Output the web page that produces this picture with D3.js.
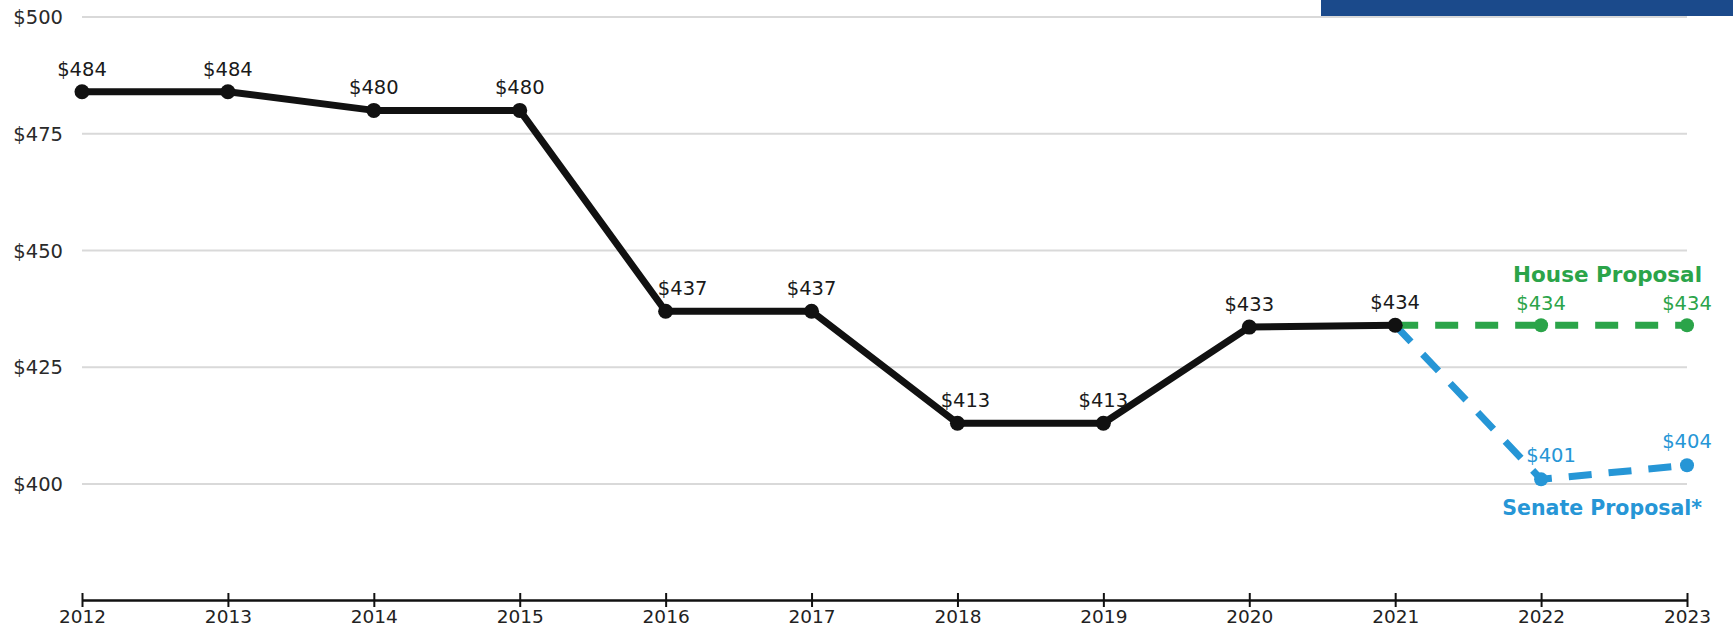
<!DOCTYPE html>
<html>
<head>
<meta charset="utf-8">
<script src="https://cdn.jsdelivr.net/npm/d3@7"></script>
<style>
  html, body { margin: 0; padding: 0; background: #fff; }
  svg { display: block; font-family: "DejaVu Sans", sans-serif; }
</style>
</head>
<body>
<svg id="chart" width="1733" height="633"></svg>
<script>
// ---- data ----
const years = [2012, 2013, 2014, 2015, 2016, 2017, 2018, 2019, 2020, 2021, 2022, 2023];
const actualYears = [2012, 2013, 2014, 2015, 2016, 2017, 2018, 2019, 2020, 2021];
const actualValues = [484, 484, 480, 480, 437, 437, 413, 413, 433.6, 434];
const actualLabels = ["$484", "$484", "$480", "$480", "$437", "$437", "$413", "$413", "$433", "$434"];
const houseYears = [2021, 2022, 2023];
const houseValues = [434, 434, 434];
const houseLabels = ["$434", "$434"];
const senateYears = [2021, 2022, 2023];
const senateValues = [434, 401, 404];
const senateLabels = ["$401", "$404"];
const yTicks = [400, 425, 450, 475, 500];
const yTickLabels = ["$400", "$425", "$450", "$475", "$500"];
const seriesNames = ["House Proposal", "Senate Proposal*"];

// ---- setup ----
const svg = d3.select("#chart");
const colBlack = "#111111", colGreen = "#2ba449", colBlue = "#2696d6", colGrid = "#d9d9d9";

const x = d3.scaleLinear().domain([2012, 2023]).range([82, 1687]);
const y = d3.scaleLinear().domain([400, 500]).range([484, 17]);

// gridlines
svg.append("g").selectAll("line").data(yTicks).join("line")
  .attr("x1", x(2012)).attr("x2", x(2023))
  .attr("y1", d => y(d)).attr("y2", d => y(d))
  .attr("stroke", colGrid).attr("stroke-width", 2);

// y labels
svg.append("g").selectAll("text").data(yTicks).join("text")
  .attr("x", 63).attr("y", d => y(d))
  .attr("dy", "0.36em")
  .attr("text-anchor", "end")
  .attr("font-size", 19.5).attr("fill", "#2a2a2a")
  .text((d, i) => yTickLabels[i]);

// header band (top right)
svg.append("rect").attr("x", 1321).attr("y", 0).attr("width", 1733 - 1321).attr("height", 16)
  .attr("fill", "#1b4a8b");

// x axis
const xAxis = d3.axisBottom(x).tickValues(years).tickFormat(d3.format("d")).tickSize(0).tickPadding(10);
const gx = svg.append("g").attr("transform", "translate(0,600)").call(xAxis);
gx.attr("font-size", null).attr("font-family", null);
gx.select(".domain").attr("stroke", colBlack).attr("stroke-width", 2.5);
gx.selectAll(".tick text").attr("font-size", 18.5).attr("fill", "#222");
gx.selectAll(".tick").append("line").attr("y1", -7).attr("y2", 7).attr("stroke", colBlack).attr("stroke-width", 2);

const line = d3.line().x(d => x(d[0])).y(d => y(d[1]));

// dashed proposals
const housePts = houseYears.map((yr, i) => [yr, houseValues[i]]);
const senatePts = senateYears.map((yr, i) => [yr, senateValues[i]]);
svg.append("path").attr("d", line(senatePts)).attr("fill", "none")
  .attr("stroke", colBlue).attr("stroke-width", 7).attr("stroke-dasharray", "23,17");
svg.append("path").attr("d", line(housePts)).attr("fill", "none")
  .attr("stroke", colGreen).attr("stroke-width", 7).attr("stroke-dasharray", "23,17");

svg.append("g").selectAll("circle").data(housePts.slice(1)).join("circle")
  .attr("cx", d => x(d[0])).attr("cy", d => y(d[1])).attr("r", 7).attr("fill", colGreen);
svg.append("g").selectAll("circle").data(senatePts.slice(1)).join("circle")
  .attr("cx", d => x(d[0])).attr("cy", d => y(d[1])).attr("r", 7).attr("fill", colBlue);

// actual line
const actualPts = actualYears.map((yr, i) => [yr, actualValues[i]]);
svg.append("path").attr("d", line(actualPts)).attr("fill", "none")
  .attr("stroke", colBlack).attr("stroke-width", 7).attr("stroke-linejoin", "round");
svg.append("g").selectAll("circle").data(actualPts).join("circle")
  .attr("cx", d => x(d[0])).attr("cy", d => y(d[1])).attr("r", 7.5).attr("fill", colBlack);

// labels for actual values (shift right where the line drops steeply into the point)
svg.append("g").selectAll("text").data(actualPts).join("text")
  .attr("x", (d, i) => {
    const drop = i > 0 ? actualPts[i - 1][1] - d[1] : 0;
    return x(d[0]) + (drop > 30 ? 17 : drop > 20 ? 8 : 0);
  })
  .attr("y", d => y(d[1]) - 16)
  .attr("text-anchor", "middle")
  .attr("font-size", 19.5).attr("fill", "#1a1a1a")
  .text((d, i) => actualLabels[i]);

// house labels
svg.append("g").selectAll("text").data(housePts.slice(1)).join("text")
  .attr("x", d => x(d[0])).attr("y", d => y(d[1]) - 15)
  .attr("text-anchor", "middle").attr("font-size", 19.5).attr("fill", colGreen)
  .text((d, i) => houseLabels[i]);
// senate labels
svg.append("g").selectAll("text").data(senatePts.slice(1)).join("text")
  .attr("x", (d, i) => x(d[0]) + (i === 0 ? 10 : 0)).attr("y", d => y(d[1]) - 17)
  .attr("text-anchor", "middle").attr("font-size", 19.5).attr("fill", colBlue)
  .text((d, i) => senateLabels[i]);

// series names
svg.append("text").attr("x", 1702).attr("y", 282).attr("text-anchor", "end")
  .attr("font-size", 21.5).attr("font-weight", "bold").attr("fill", colGreen)
  .text(seriesNames[0]);
svg.append("text").attr("x", 1702).attr("y", 515).attr("text-anchor", "end")
  .attr("font-size", 20.5).attr("font-weight", "bold").attr("fill", colBlue)
  .text(seriesNames[1]);
</script>
</body>
</html>
